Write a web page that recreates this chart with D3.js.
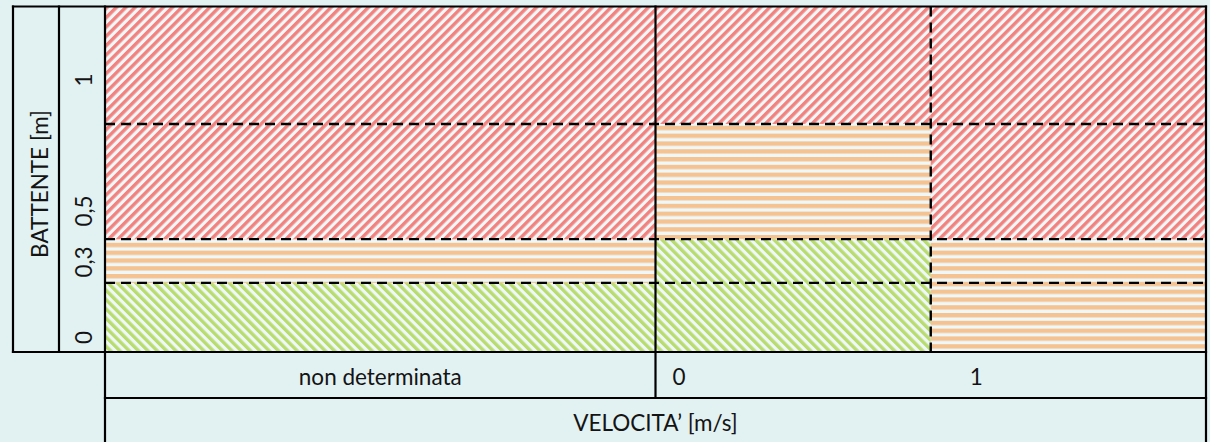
<!DOCTYPE html>
<html><head><meta charset="utf-8">
<script src="https://cdn.jsdelivr.net/npm/d3@7"></script>
<style>
html,body{margin:0;padding:0;background:#e2f1f2;}
svg{display:block;}
text{font-family:Lato,"Open Sans",sans-serif;fill:#141414;}
</style></head><body>
<svg id="chart" width="1210" height="442"></svg>
<script>
// ---- data ----
const velocityLabels = ["non determinata", "0", "1"];
const velocityWidths = [2, 1, 1];            // relative width of each velocity class
const depthLabels = ["0", "0,3", "0,5", "1"];
const depthHeights = [0.3, 0.19, 0.5, 0.51]; // thickness of each depth band
const hazardNonDet = ["low", "medium", "high", "high"];
const hazardV0 = ["low", "low", "medium", "high"];
const hazardV1 = ["medium", "medium", "high", "high"];
const axisTitleX = "VELOCITA\u2019 [m/s]";
const axisTitleY = "BATTENTE [m]";

// ---- layout ----
const L = {outerLeft: 13, sep: 59, plotLeft: 105, plotRight: 1206, plotTop: 6.5,
           plotBottom: 352, rowBottom: 398, bottom: 442};
const svg = d3.select("#chart");
const hazardCols = [hazardNonDet, hazardV0, hazardV1];

const xEdges = [0, ...d3.cumsum(velocityWidths)];
const yEdges = [0, ...d3.cumsum(depthHeights)];
const x = d3.scaleLinear().domain([0, d3.sum(velocityWidths)]).range([L.plotLeft, L.plotRight]);
const y = d3.scaleLinear().domain([0, d3.sum(depthHeights)]).range([L.plotBottom, L.plotTop]);

// ---- patterns ----
const defs = svg.append("defs");
const bgFill = "#eef8f9";
function diag(id, color, angle) {
  const p = defs.append("pattern").attr("id", id).attr("patternUnits", "userSpaceOnUse")
    .attr("width", 6.6).attr("height", 10).attr("patternTransform", `rotate(${angle})`);
  p.append("rect").attr("width", 6.6).attr("height", 10).attr("fill", bgFill);
  p.append("rect").attr("width", 3.4).attr("height", 10).attr("fill", color);
}
diag("p-high", "#f3827f", 45);
diag("p-low", "#b8dc6e", -45);
const po = defs.append("pattern").attr("id", "p-medium").attr("patternUnits", "userSpaceOnUse")
  .attr("width", 10).attr("height", 7.8).attr("y", 1);
po.append("rect").attr("width", 10).attr("height", 7.8).attr("fill", bgFill);
po.append("rect").attr("width", 10).attr("height", 4.4).attr("fill", "#f5c291");

// ---- cells ----
const cells = [];
hazardCols.forEach((col, i) => col.forEach((lvl, j) => cells.push({
  x0: xEdges[i], x1: xEdges[i + 1], y0: yEdges[j], y1: yEdges[j + 1], level: lvl})));
svg.append("g").selectAll("rect").data(cells).join("rect")
  .attr("x", d => x(d.x0)).attr("width", d => x(d.x1) - x(d.x0))
  .attr("y", d => y(d.y1)).attr("height", d => y(d.y0) - y(d.y1))
  .attr("fill", d => `url(#p-${d.level})`);

// ---- dashed boundaries ----
const dash = "10,6";
svg.append("g").selectAll("line").data(yEdges.slice(1, -1)).join("line")
  .attr("x1", L.plotLeft).attr("x2", L.plotRight).attr("y1", d => y(d)).attr("y2", d => y(d))
  .attr("stroke", "#000").attr("stroke-width", 2.4).attr("stroke-dasharray", dash);
svg.append("g").selectAll("line").data(xEdges.slice(2, -1)).join("line")
  .attr("x1", d => x(d)).attr("x2", d => x(d)).attr("y1", L.plotTop).attr("y2", L.plotBottom)
  .attr("stroke", "#000").attr("stroke-width", 2.4).attr("stroke-dasharray", dash);

// ---- solid frame ----
const frame = [
  [L.outerLeft, L.plotTop, L.plotRight, L.plotTop],
  [L.outerLeft, L.plotTop, L.outerLeft, L.plotBottom],
  [L.sep, L.plotTop, L.sep, L.plotBottom],
  [L.plotLeft, L.plotTop, L.plotLeft, L.bottom],
  [L.outerLeft, L.plotBottom, L.plotRight, L.plotBottom],
  [L.plotLeft, L.rowBottom, L.plotRight, L.rowBottom],
  [L.plotRight, L.plotTop, L.plotRight, L.bottom],
  [x(xEdges[1]), L.plotTop, x(xEdges[1]), L.rowBottom]
];
svg.append("g").selectAll("line").data(frame).join("line")
  .attr("x1", d => d[0]).attr("y1", d => d[1]).attr("x2", d => d[2]).attr("y2", d => d[3])
  .attr("stroke", "#000").attr("stroke-width", 2.2).attr("stroke-linecap", "square");

// ---- texts ----
const fs = 22.5;
const rowBase = 385;
svg.append("text").attr("x", x((xEdges[0] + xEdges[1]) / 2)).attr("y", rowBase)
  .attr("text-anchor", "middle").attr("font-size", fs).text(velocityLabels[0]);
const velOffsets = [17, 39];
velocityLabels.slice(1).forEach((t, k) => {
  svg.append("text").attr("x", x(xEdges[k + 1]) + velOffsets[k]).attr("y", rowBase)
    .attr("font-size", fs).text(t);
});
svg.append("text").attr("x", (L.plotLeft + L.plotRight) / 2).attr("y", 431)
  .attr("text-anchor", "middle").attr("font-size", fs).text(axisTitleX);
svg.append("text").attr("transform", `translate(47.5,184) rotate(-90)`)
  .attr("text-anchor", "middle").attr("font-size", fs).text(axisTitleY);
const labelCenters = [337.5, 262, 211, 80];
svg.append("g").selectAll("text").data(depthLabels).join("text")
  .attr("transform", (d, i) => `translate(91.5,${labelCenters[i]}) rotate(-90)`)
  .attr("text-anchor", "middle").attr("font-size", fs).text(d => d);
</script>
</body></html>
